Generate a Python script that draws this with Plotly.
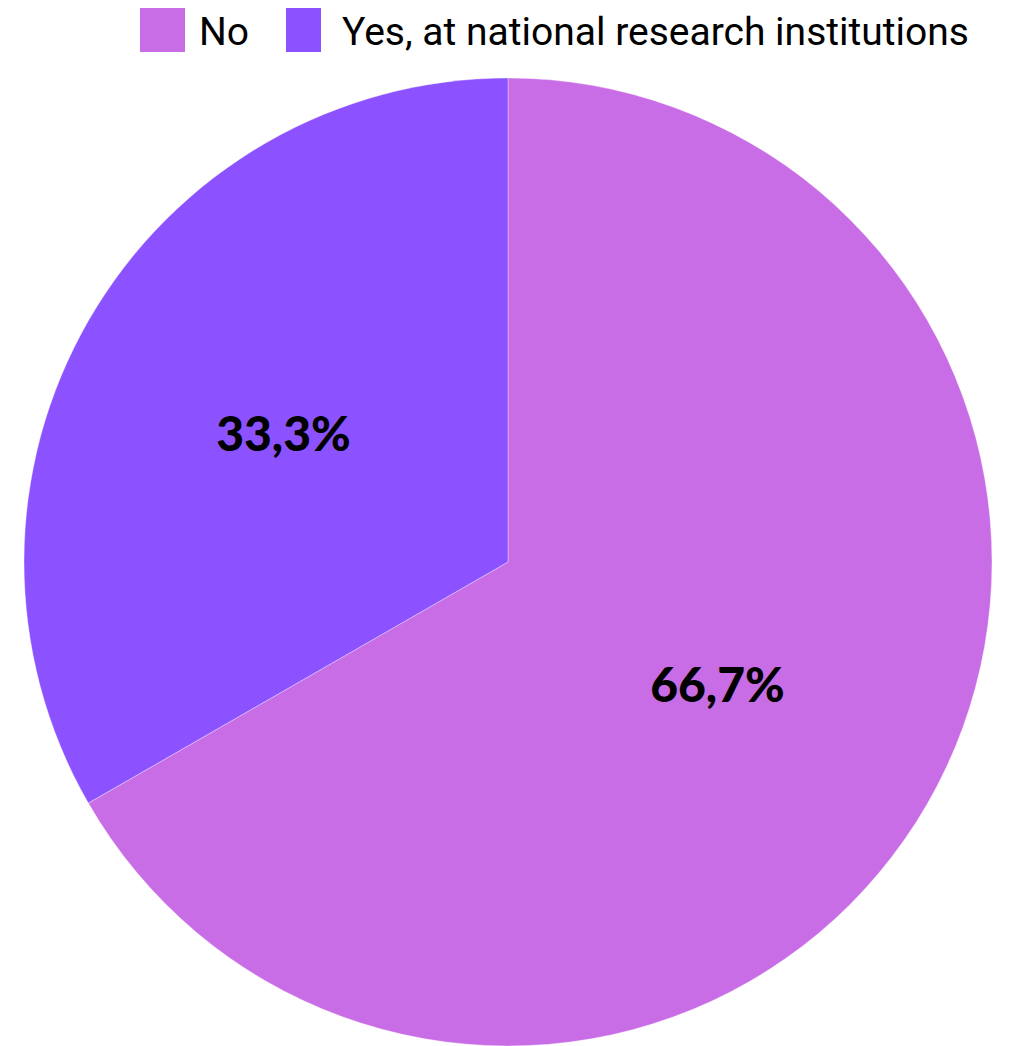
import plotly.graph_objects as go

labels = ["No", "Yes, at national research institutions"]
values = [66.7, 33.3]
colors = ["#C86DE6", "#8C52FF"]

OFF = 8  # default page body margin
W, H = 1021 - OFF, 1046 - OFF


def px(x):
    return (x - OFF) / W


def py(y):
    return 1 - (y - OFF) / H


fig = go.Figure(go.Pie(
    labels=labels,
    values=values,
    marker=dict(colors=colors, line=dict(color="rgba(255,255,255,0.35)", width=1)),
    sort=False,
    direction="clockwise",
    rotation=0,
    texttemplate="%{percent:.1%}",
    textposition="inside",
    insidetextorientation="horizontal",
    textfont=dict(family="Lato, Open Sans, sans-serif", size=48, color="black", weight=900),
    domain=dict(x=[px(23), px(993)], y=[0, py(78)]),
    showlegend=False,
    hoverinfo="label+percent",
))

# custom legend (large square swatches)
swatches = [(140, 185), (286, 321)]
text_x = [198, 341]
for (x0, x1), tx, lab, col in zip(swatches, text_x, labels, colors):
    fig.add_shape(type="rect", xref="paper", yref="paper",
                  x0=px(x0), x1=px(x1), y0=py(52), y1=py(8),
                  fillcolor=col, line=dict(width=0))
    fig.add_annotation(xref="paper", yref="paper", x=px(tx), y=py(32),
                       xanchor="left", yanchor="middle", showarrow=False,
                       borderpad=0,
                       text=lab, font=dict(family="Roboto, sans-serif",
                                           size=39, color="#000000"))

fig.update_layout(
    width=W, height=H,
    margin=dict(l=0, r=0, t=0, b=0),
    paper_bgcolor="white",
    separators=",.",
)

fig.write_html("out.html")
